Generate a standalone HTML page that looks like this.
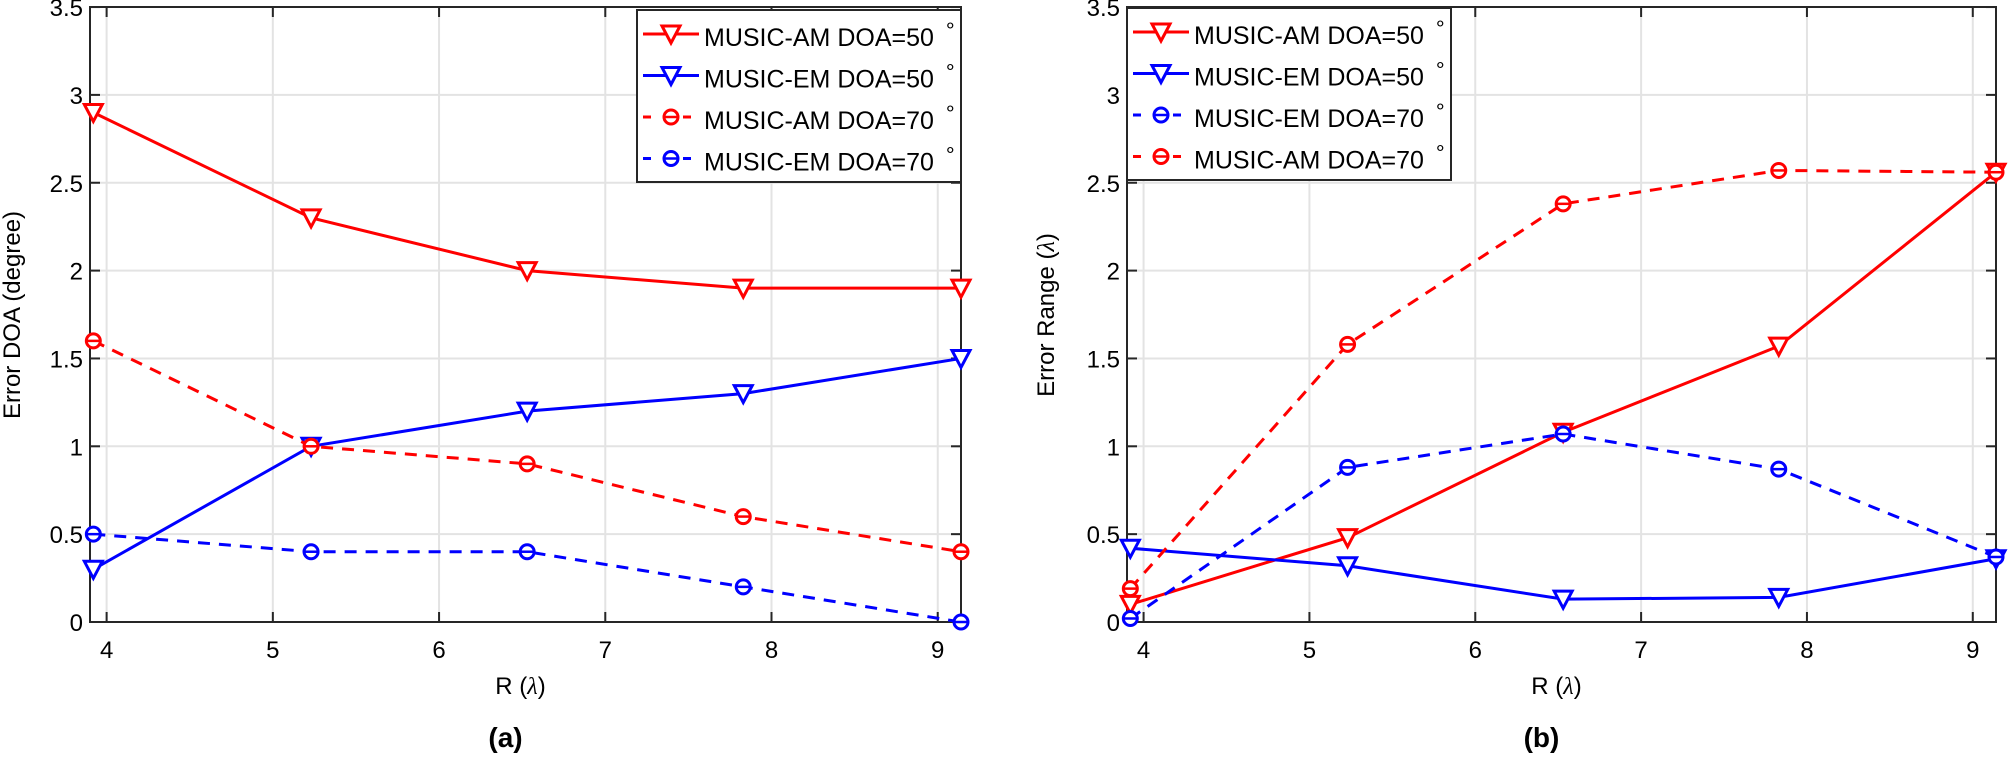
<!DOCTYPE html>
<html><head><meta charset="utf-8"><style>
html,body{margin:0;padding:0;background:#fff;}
svg{display:block;font-family:"Liberation Sans",sans-serif;}
</style></head><body>
<svg id="s" width="2008" height="760" xmlns="http://www.w3.org/2000/svg"></svg>
<script>
const S=document.getElementById('s');let h='';
const xs=[3.92,5.23,6.53,7.83,9.14];
function Y(v){return 622-175.7*v;}
function panel(L,R,series,ylabel,ylx,tag,leg){
  const X=v=>L+(v-3.9)*(R-L)/5.24;
  for(let t=4;t<=9;t++){h+=`<line x1="${X(t)}" y1="7" x2="${X(t)}" y2="622" stroke="#e3e3e3" stroke-width="2"/>`;}
  for(let k=1;k<7;k++){const y=Y(k*0.5);h+=`<line x1="${L}" y1="${y}" x2="${R}" y2="${y}" stroke="#e3e3e3" stroke-width="2"/>`;}
  h+=`<rect x="${L}" y="7" width="${R-L}" height="615" fill="none" stroke="#262626" stroke-width="2"/>`;
  for(let t=4;t<=9;t++){h+=`<line x1="${X(t)}" y1="622" x2="${X(t)}" y2="612" stroke="#262626" stroke-width="2"/><line x1="${X(t)}" y1="7" x2="${X(t)}" y2="17" stroke="#262626" stroke-width="2"/>`;
    h+=`<text x="${X(t)}" y="658" font-size="24" text-anchor="middle">${t}</text>`;}
  for(let k=0;k<=7;k++){const v=k*0.5,y=Y(v);h+=`<line x1="${L}" y1="${y}" x2="${L+10}" y2="${y}" stroke="#262626" stroke-width="2"/><line x1="${R}" y1="${y}" x2="${R-10}" y2="${y}" stroke="#262626" stroke-width="2"/>`;
    h+=`<text x="${L-7}" y="${y+9}" font-size="24" text-anchor="end">${v}</text>`;}
  h+=`<text x="${(L+R)/2-5}" y="694" font-size="24" text-anchor="middle">R (<tspan font-family="Liberation Serif" font-style="italic">λ</tspan>)</text>`;
  h+=`<text x="${(L+R)/2-20}" y="747" font-size="28" font-weight="bold" text-anchor="middle">${tag}</text>`;
  h+=`<text transform="translate(${ylx},315) rotate(-90)" font-size="24" text-anchor="middle">${ylabel}</text>`;
  for(const s of series){
    const pts=s.v.map((v,i)=>[X(xs[i]),Y(v)]);
    h+=`<polyline points="${pts.map(p=>p.join(',')).join(' ')}" fill="none" stroke="${s.c}" stroke-width="3" ${s.d?'stroke-dasharray="12,9"':''}/>`;
    for(const p of pts)h+=mk(p[0],p[1],s);
  }
  const lx=leg[0],ly=leg[1];
  h+=`<rect x="${lx}" y="${ly}" width="324" height="172" fill="#fff" stroke="#262626" stroke-width="2"/>`;
  series.forEach((s,i)=>{const cy=ly+24+i*41.5;
    h+=`<line x1="${lx+6}" y1="${cy}" x2="${lx+62}" y2="${cy}" stroke="${s.c}" stroke-width="3" ${s.d?'stroke-dasharray="8,12"':''}/>`;
    h+=mk(lx+34,cy,s);
    h+=`<text x="${lx+67}" y="${cy+12}" font-size="25">${s.n}</text><text x="${lx+307}" y="${cy-2}" font-size="20">∘</text>`;});
}
function mk(x,y,s){
  if(s.m==='t')return `<polygon points="${x-9},${y-8} ${x+9},${y-8} ${x},${y+9}" fill="#fff" stroke="${s.c}" stroke-width="3"/>`;
  return `<circle cx="${x}" cy="${y}" r="7" fill="#fff" stroke="${s.c}" stroke-width="3"/><line x1="${x-7}" y1="${y}" x2="${x+7}" y2="${y}" stroke="${s.c}" stroke-width="2.5"/>`;
}
panel(90,961,[
 {n:'MUSIC-AM DOA=50',c:'#ff0000',m:'t',v:[2.9,2.3,2.0,1.9,1.9]},
 {n:'MUSIC-EM DOA=50',c:'#0000ff',m:'t',v:[0.3,1.0,1.2,1.3,1.5]},
 {n:'MUSIC-AM DOA=70',c:'#ff0000',m:'o',d:1,v:[1.6,1.0,0.9,0.6,0.4]},
 {n:'MUSIC-EM DOA=70',c:'#0000ff',m:'o',d:1,v:[0.5,0.4,0.4,0.2,0.0]}
],'Error DOA (degree)',20,'(a)',[637,10]);
panel(1127,1996,[
 {n:'MUSIC-AM DOA=50',c:'#ff0000',m:'t',v:[0.1,0.48,1.08,1.57,2.56]},
 {n:'MUSIC-EM DOA=50',c:'#0000ff',m:'t',v:[0.42,0.32,0.13,0.14,0.36]},
 {n:'MUSIC-EM DOA=70',c:'#0000ff',m:'o',d:1,v:[0.02,0.88,1.07,0.87,0.37]},
 {n:'MUSIC-AM DOA=70',c:'#ff0000',m:'o',d:1,v:[0.19,1.58,2.38,2.57,2.56]}
],'Error Range (<tspan font-family="Liberation Serif" font-style="italic">λ</tspan>)',1054,'(b)',[1127,8]);
S.innerHTML=h;
</script>
</body></html>
